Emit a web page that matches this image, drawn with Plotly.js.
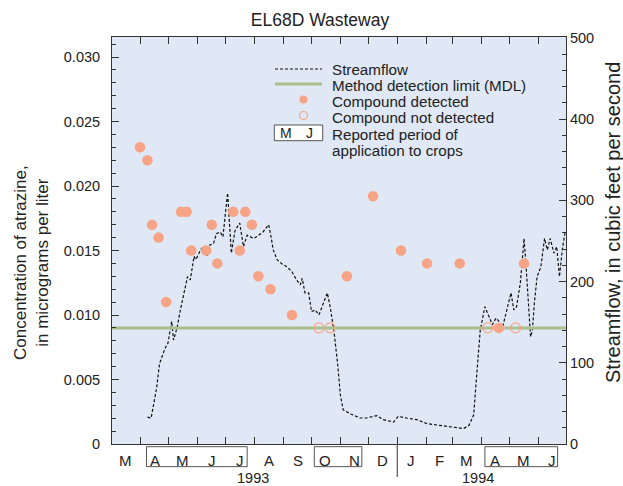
<!DOCTYPE html>
<html><head><meta charset="utf-8">
<script src="https://cdn.plot.ly/plotly-3.0.1.min.js"></script>
<style>html,body{margin:0;padding:0;background:#fff}#chart{width:623px;height:486px}</style>
</head><body><div id="chart"></div>
<script>
// Streamflow (cubic feet per second)
var flowDates = ['1993-04-08','1993-04-12','1993-04-18','1993-04-21','1993-04-27','1993-04-30','1993-05-04','1993-05-06','1993-05-10','1993-05-13','1993-05-21','1993-05-24','1993-05-28','1993-05-30','1993-06-04','1993-06-07','1993-06-11','1993-06-14','1993-06-18','1993-06-21','1993-06-25','1993-06-28','1993-07-03','1993-07-07','1993-07-11','1993-07-16','1993-07-20','1993-07-24','1993-07-31','1993-08-03','1993-08-10','1993-08-16','1993-08-18','1993-08-21','1993-08-25','1993-08-30','1993-09-05','1993-09-10','1993-09-15','1993-09-19','1993-09-21','1993-09-24','1993-09-28','1993-10-01','1993-10-05','1993-10-09','1993-10-13','1993-10-18','1993-10-21','1993-10-25','1993-10-29','1993-11-01','1993-11-04','1993-11-12','1993-11-22','1993-11-29','1993-12-10','1993-12-17','1993-12-28','1994-01-02','1994-01-11','1994-01-22','1994-02-02','1994-02-16','1994-03-01','1994-03-13','1994-03-19','1994-03-24','1994-03-26','1994-03-28','1994-03-31','1994-04-05','1994-04-09','1994-04-13','1994-04-17','1994-04-20','1994-04-24','1994-04-29','1994-05-03','1994-05-06','1994-05-09','1994-05-13','1994-05-15','1994-05-17','1994-05-19','1994-05-21','1994-05-24','1994-05-26','1994-05-28','1994-05-31','1994-06-04','1994-06-08','1994-06-11','1994-06-14','1994-06-18','1994-06-21','1994-06-24','1994-06-27','1994-06-30'];
var flowValues = [33,32,70,99,118,124,151,128,144,163,206,202,231,227,239,243,231,245,247,259,261,255,309,235,263,272,243,257,253,255,261,270,259,239,227,222,218,212,202,196,204,186,186,163,165,159,171,186,169,140,99,60,42,37,32,32,35,30,27,34,32,30,25,23,21,19,23,36,67,99,140,169,157,147,155,151,144,169,186,165,169,198,227,253,222,181,132,140,173,206,218,253,239,253,235,243,206,239,261];

// Atrazine detected (micrograms per liter)
var detDates = ['1993-03-31','1993-04-08','1993-04-13','1993-04-20','1993-04-28','1993-05-14','1993-05-20','1993-05-25','1993-06-10','1993-06-16','1993-06-22','1993-07-09','1993-07-16','1993-07-22','1993-07-29','1993-08-05','1993-08-18','1993-09-10','1993-11-08','1993-12-06','1994-01-05','1994-02-02','1994-03-09','1994-04-20','1994-05-17'];
var detValues = [0.023,0.022,0.017,0.016,0.011,0.018,0.018,0.015,0.015,0.017,0.014,0.018,0.015,0.018,0.017,0.013,0.012,0.010,0.013,0.0192,0.015,0.014,0.014,0.009,0.014];

// Not detected (plotted at MDL)
var ndDates = ['1993-10-09','1993-10-21','1994-04-08','1994-05-08'];
var ndValues = [0.009,0.009,0.009,0.009];

// Method detection limit
var mdlDates = ['1993-03-01','1994-07-01'];
var mdlValues = [0.009,0.009];

// Axis tick labels
var concTicks = [0,0.005,0.010,0.015,0.020,0.025,0.030];
var concLabels = ['0','0.005','0.010','0.015','0.020','0.025','0.030'];
var monthLabels = ['M','A','M','J','J','A','S','O','N','D','J','F','M','A','M','J'];
var monthMids = ['1993-03-15','1993-04-16','1993-05-16','1993-06-16','1993-07-16','1993-08-16','1993-09-16','1993-10-16','1993-11-16','1993-12-16','1994-01-16','1994-02-15','1994-03-16','1994-04-16','1994-05-16','1994-06-16'];
var yearLabels = ['1993','1994'];
var yearPos = ['1993-07-30','1994-03-29'];
// Reported application periods (boxed months)
var appStart = ['1993-04-07','1993-10-04','1994-04-05'];
var appEnd = ['1993-07-24','1993-11-24','1994-06-22'];

var FONT = 'Liberation Sans, Arial, Helvetica, sans-serif';
var salmon = '#f7a386';
var green = '#a9c08c';

var traces = [
  {x: flowDates, y: flowValues, yaxis: 'y', type: 'scatter', mode: 'lines',
   line: {color: '#111', width: 1.2, dash: '3px,2px'}, hoverinfo: 'skip'},
  {x: mdlDates, y: mdlValues, yaxis: 'y2', type: 'scatter', mode: 'lines',
   line: {color: green, width: 3}},
  {x: detDates, y: detValues, yaxis: 'y2', type: 'scatter', mode: 'markers',
   marker: {color: salmon, size: 10.5, line: {width: 0}}},
  {x: ndDates, y: ndValues, yaxis: 'y2', type: 'scatter', mode: 'markers',
   marker: {symbol: 'circle-open', color: salmon, size: 10, line: {width: 1.2, color: salmon}}}
];

var shapes = [];
var annotations = [];
function px2x(p){ return (p-112)/454; }
function py2y(p){ return (444-p)/407; }

// Application boxes
for (var i=0;i<appStart.length;i++){
  shapes.push({type:'rect', xref:'x', yref:'paper', x0: appStart[i], x1: appEnd[i], y0: -0.0066, y1: -0.0557,
    line:{color:'#555', width:1}, fillcolor:'rgba(0,0,0,0)'});
}
// Year divider
shapes.push({type:'line', xref:'x', yref:'paper', x0:'1994-01-01', x1:'1994-01-01', y0:0, y1:-0.081, line:{color:'#333', width:1}});

for (var m=0;m<monthLabels.length;m++){
  annotations.push({xref:'x', yref:'paper', x: monthMids[m], y: py2y(460), text: monthLabels[m], showarrow:false,
    xanchor:'center', yanchor:'middle', font:{family:FONT, size:15, color:'#222'}});
}
for (var k=0;k<yearLabels.length;k++){
  annotations.push({xref:'x', yref:'paper', x: yearPos[k], y: py2y(477.5), text: yearLabels[k], showarrow:false, borderpad:0,
    xanchor:'center', yanchor:'middle', font:{family:FONT, size:14.5, color:'#222'}});
}

// Legend (drawn)
shapes.push({type:'line', xref:'paper', yref:'paper', x0:px2x(275), x1:px2x(322), y0:py2y(69), y1:py2y(69), line:{color:'#111', width:1.2, dash:'3px,2px'}});
shapes.push({type:'line', xref:'paper', yref:'paper', x0:px2x(275), x1:px2x(322), y0:py2y(84), y1:py2y(84), line:{color:green, width:3}});
shapes.push({type:'circle', xref:'paper', yref:'paper', xsizemode:'pixel', ysizemode:'pixel', xanchor:px2x(303.5), yanchor:py2y(99.5), x0:-4, x1:4, y0:-4, y1:4, fillcolor:salmon, line:{width:0}});
shapes.push({type:'circle', xref:'paper', yref:'paper', xsizemode:'pixel', ysizemode:'pixel', xanchor:px2x(303.5), yanchor:py2y(115.5), x0:-4, x1:4, y0:-4, y1:4, fillcolor:'rgba(0,0,0,0)', line:{width:1.2, color:salmon}});
shapes.push({type:'rect', xref:'paper', yref:'paper', x0:px2x(274.3), x1:px2x(322.7), y0:py2y(140.7), y1:py2y(125), line:{color:'#555', width:1}, fillcolor:'#fff'});
annotations.push({xref:'paper', yref:'paper', x:px2x(285.7), y:py2y(133), text:'M', showarrow:false, xanchor:'center', yanchor:'middle', font:{family:FONT, size:14, color:'#222'}});
annotations.push({xref:'paper', yref:'paper', x:px2x(309.3), y:py2y(133), text:'J', showarrow:false, xanchor:'center', yanchor:'middle', font:{family:FONT, size:14, color:'#222'}});
var legTexts = ['Streamflow','Method detection limit (MDL)','Compound detected','Compound not detected','Reported period of','application to crops'];
var legY = [69, 85, 101.3, 117.6, 134, 150];
for (var t=0;t<legTexts.length;t++){
  annotations.push({xref:'paper', yref:'paper', x:px2x(331), y:py2y(legY[t]), text:legTexts[t], showarrow:false, borderpad:0,
    xanchor:'left', yanchor:'middle', font:{family:FONT, size:15.2, color:'#222'}});
}
// Axis titles
annotations.push({xref:'paper', yref:'paper', x:px2x(31), y:py2y(263), text:'Concentration of atrazine,<br>in micrograms per liter', showarrow:false,
  textangle:-90, xanchor:'center', yanchor:'middle', font:{family:FONT, size:17, color:'#222'}});
annotations.push({xref:'paper', yref:'paper', x:px2x(613), y:py2y(223), text:'Streamflow, in cubic feet per second', showarrow:false,
  textangle:-90, xanchor:'center', yanchor:'middle', font:{family:FONT, size:20, color:'#222'}});

var layout = {
  width: 623, height: 486,
  margin: {l:112, r:57, t:37, b:42},
  paper_bgcolor: '#fff', plot_bgcolor: '#e0e8f5',
  showlegend: false,
  font: {family: FONT, color: '#222'},
  title: {text: 'EL68D Wasteway', font:{family:FONT, size:17.5, color:'#222'}, xref:'container', x: 320/623, xanchor:'center', yref:'container', y: 1-20/486, yanchor:'middle'},
  xaxis: {type:'date', range:['1993-03-01','1994-07-01'], tickmode:'linear', tick0:'1993-03-01', dtick:'M1',
    ticks:'inside', ticklen:7, tickcolor:'#333', showticklabels:false, showgrid:false, zeroline:false,
    showline:true, linecolor:'#333', linewidth:1, mirror:'ticks'},
  yaxis: {side:'right', range:[0,501], tickmode:'linear', tick0:0, dtick:100, ticks:'inside', ticklen:7, tickcolor:'#333',
    minor:{tickmode:'linear', tick0:0, dtick:20, ticks:'inside', ticklen:4, tickcolor:'#333'},
    showgrid:false, zeroline:false, showline:true, linecolor:'#333', linewidth:1,
    tickfont:{family:FONT, size:14.5, color:'#222'}, ticklabelstandoff:0},
  yaxis2: {side:'left', overlaying:'y', range:[0,0.03155], tickmode:'array', tickvals:concTicks, ticktext:concLabels,
    ticks:'inside', ticklen:7, tickcolor:'#333',
    minor:{tickmode:'linear', tick0:0, dtick:0.001, ticks:'inside', ticklen:4, tickcolor:'#333'},
    showgrid:false, zeroline:false, showline:true, linecolor:'#333', linewidth:1,
    tickfont:{family:FONT, size:14.5, color:'#222'}, ticklabelstandoff:8},
  shapes: shapes,
  annotations: annotations
};
Plotly.newPlot('chart', traces, layout, {displayModeBar:false, staticPlot:true});
</script></body></html>
